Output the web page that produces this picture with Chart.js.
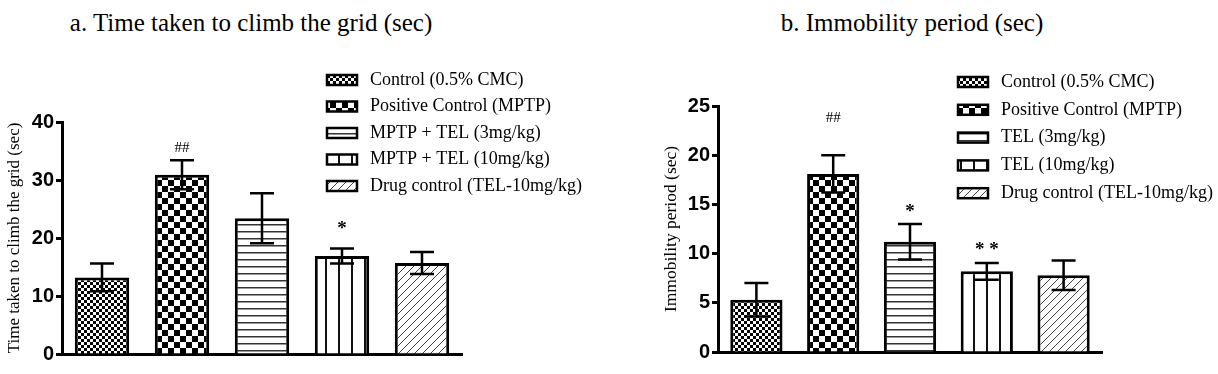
<!DOCTYPE html>
<html>
<head>
    <title>Time taken to climb the grid / Immobility period</title>
    <style>
        body { margin: 0; background: #fff; width: 1218px; height: 374px; position: relative; overflow: hidden; }
        .panel { position: absolute; top: 0; width: 609px; height: 374px; }
        .heading { position: absolute; top: 9px; font-family: 'Liberation Serif', serif; font-size: 25px; line-height: 28px; color: #000; white-space: nowrap; transform: translateX(-50%); }
    </style>
    <script src="https://cdn.jsdelivr.net/npm/chart.js"></script>
</head>
<body>

    <div class="heading" style="left:251px">a. Time taken to climb the grid (sec)</div>
    <div class="heading" style="left:912px">b. Immobility period (sec)</div>
    <div class="panel" style="left:0"><canvas id="climbChart" width="609" height="374"></canvas></div>
    <div class="panel" style="left:609px"><canvas id="immobChart" width="609" height="374"></canvas></div>

    <script>
        // panel a: time taken to climb the grid
        const groupsA = ['Control (0.5% CMC)', 'Positive Control (MPTP)', 'MPTP + TEL (3mg/kg)', 'MPTP + TEL (10mg/kg)', 'Drug control (TEL-10mg/kg)'];
        const meansA = [13.2, 30.9, 23.4, 16.9, 15.7];
        const semA = [2.4, 2.5, 4.3, 1.3, 1.9];
        const marksA = ['', '##', '', '*', ''];
        const markLevelA = [null, 35.5, null, 22.2, null];
        const yTicksA = [0, 10, 20, 30, 40];

        // panel b: immobility period
        const groupsB = ['Control (0.5% CMC)', 'Positive Control (MPTP)', 'TEL (3mg/kg)', 'TEL (10mg/kg)', 'Drug control (TEL-10mg/kg)'];
        const meansB = [5.3, 18.1, 11.2, 8.2, 7.8];
        const semB = [1.7, 1.9, 1.8, 0.85, 1.5];
        const marksB = ['', '##', '*', '**', ''];
        const markLevelB = [null, 23.8, 14.6, 10.75, null];
        const yTicksB = [0, 5, 10, 15, 20, 25];

        const fillKinds = ['fineCheck', 'check', 'hlines', 'vlines', 'diag'];

        function makePattern(ctx, kind) {
            const t = document.createElement('canvas');
            const g = t.getContext('2d');
            if (kind === 'fineCheck') {
                t.width = 6; t.height = 6;
                g.fillStyle = '#fff'; g.fillRect(0, 0, 6, 6);
                g.fillStyle = '#000';
                g.fillRect(0, 0, 3, 3); g.fillRect(3, 3, 3, 3);
            } else if (kind === 'check') {
                t.width = 12; t.height = 12;
                g.fillStyle = '#fff'; g.fillRect(0, 0, 12, 12);
                g.fillStyle = '#000';
                g.fillRect(0, 0, 6, 6); g.fillRect(6, 6, 6, 6);
            } else if (kind === 'hlines') {
                t.width = 7; t.height = 7;
                g.fillStyle = '#fff'; g.fillRect(0, 0, 7, 7);
                g.fillStyle = '#333'; g.fillRect(0, 0, 7, 1.5);
            } else if (kind === 'vlines') {
                t.width = 13; t.height = 13;
                g.fillStyle = '#fff'; g.fillRect(0, 0, 13, 13);
                g.fillStyle = '#111'; g.fillRect(0, 0, 2, 13);
            } else {
                t.width = 8; t.height = 8;
                g.fillStyle = '#fff'; g.fillRect(0, 0, 8, 8);
                g.strokeStyle = '#444'; g.lineWidth = 1;
                g.beginPath();
                g.moveTo(0, 8); g.lineTo(8, 0);
                g.moveTo(-2, 2); g.lineTo(2, -2);
                g.moveTo(6, 10); g.lineTo(10, 6);
                g.stroke();
            }
            return ctx.createPattern(t, 'repeat');
        }

        function drawPanel(canvasId, s) {
            const ctx = document.getElementById(canvasId).getContext('2d');
            const fills = fillKinds.map(k => makePattern(ctx, k));

            const extras = {
                id: 'extras',
                afterDatasetsDraw(chart) {
                    const c = chart.ctx;
                    const y = chart.scales.y;
                    const meta = chart.getDatasetMeta(0);
                    c.save();
                    // error bars
                    c.strokeStyle = '#000';
                    c.lineWidth = 2.5;
                    meta.data.forEach((bar, i) => {
                        const hi = y.getPixelForValue(s.means[i] + s.sem[i]);
                        const lo = y.getPixelForValue(s.means[i] - s.sem[i]);
                        c.beginPath();
                        c.moveTo(bar.x, hi); c.lineTo(bar.x, lo);
                        c.moveTo(bar.x - 12, hi); c.lineTo(bar.x + 12, hi);
                        c.moveTo(bar.x - 12, lo); c.lineTo(bar.x + 12, lo);
                        c.stroke();
                    });
                    // significance marks
                    c.fillStyle = '#000';
                    c.textAlign = 'center';
                    meta.data.forEach((bar, i) => {
                        if (!s.marks[i]) return;
                        const py = y.getPixelForValue(s.markLevel[i]);
                        if (s.marks[i].startsWith('#')) {
                            c.font = '15px "Liberation Serif"';
                            c.textBaseline = 'middle';
                            c.fillText(s.marks[i], bar.x, py);
                        } else {
                            c.font = 'bold 19px "Liberation Serif"';
                            c.textBaseline = 'alphabetic';
                            c.fillText(s.marks[i].split('').join(' '), bar.x, py + 9);
                        }
                    });
                    // legend
                    c.textAlign = 'left';
                    c.textBaseline = 'middle';
                    c.font = s.legendFont + 'px "Liberation Serif"';
                    s.groups.forEach((name, i) => {
                        const cy = s.legendTop + i * s.legendGap;
                        c.fillStyle = fills[i];
                        c.fillRect(s.legendX, cy - 5, 30, 10);
                        c.lineWidth = 2.5;
                        c.strokeStyle = '#000';
                        c.strokeRect(s.legendX, cy - 5, 30, 10);
                        c.fillStyle = '#000';
                        c.fillText(name, s.legendX + 43, cy);
                    });
                    c.restore();
                }
            };

            new Chart(ctx, {
                type: 'bar',
                data: {
                    labels: s.groups,
                    datasets: [{
                        data: s.means,
                        backgroundColor: fills,
                        borderColor: '#000',
                        borderWidth: 3,
                        categoryPercentage: 1,
                        barPercentage: 0.68
                    }]
                },
                options: {
                    responsive: false,
                    animation: false,
                    layout: { padding: s.padding },
                    plugins: { legend: { display: false }, tooltip: { enabled: false } },
                    scales: {
                        x: {
                            ticks: { display: false },
                            grid: { display: false },
                            border: { display: true, color: '#000', width: 3 },
                            afterFit: sc => { sc.height = 0; }
                        },
                        y: {
                            min: s.ticks[0],
                            max: s.ticks[s.ticks.length - 1],
                            ticks: {
                                stepSize: s.ticks[1] - s.ticks[0],
                                color: '#000',
                                padding: 2,
                                font: { family: 'Liberation Sans', size: 20, weight: 'bold' }
                            },
                            grid: { drawOnChartArea: false, drawTicks: true, tickLength: 6, tickWidth: 3, tickColor: '#000' },
                            border: { display: true, color: '#000', width: 3 },
                            title: {
                                display: true,
                                text: s.yTitle,
                                color: '#000',
                                padding: { top: s.titlePad, bottom: 0 },
                                font: { family: 'Liberation Serif', size: s.titleSize, weight: 'normal' }
                            },
                            afterFit: sc => { sc.width = s.axisWidth; }
                        }
                    }
                },
                plugins: [extras]
            });
        }

        drawPanel('climbChart', {
            groups: groupsA, means: meansA, sem: semA, marks: marksA, markLevel: markLevelA, ticks: yTicksA,
            yTitle: 'Time taken to climb the grid (sec)',
            padding: { left: 2, top: 122, right: 147, bottom: 20 },
            axisWidth: 60, titlePad: 2, titleSize: 17,
            legendX: 327, legendTop: 80, legendGap: 26.5, legendFont: 18
        });

        drawPanel('immobChart', {
            groups: groupsB, means: meansB, sem: semB, marks: marksB, markLevel: markLevelB, ticks: yTicksB,
            yTitle: 'Immobility period (sec)',
            padding: { left: 0, top: 106, right: 116, bottom: 22 },
            axisWidth: 109, titlePad: 52, titleSize: 17.5,
            legendX: 349, legendTop: 82, legendGap: 27.8, legendFont: 18
        });
    </script>

</body>
</html>
